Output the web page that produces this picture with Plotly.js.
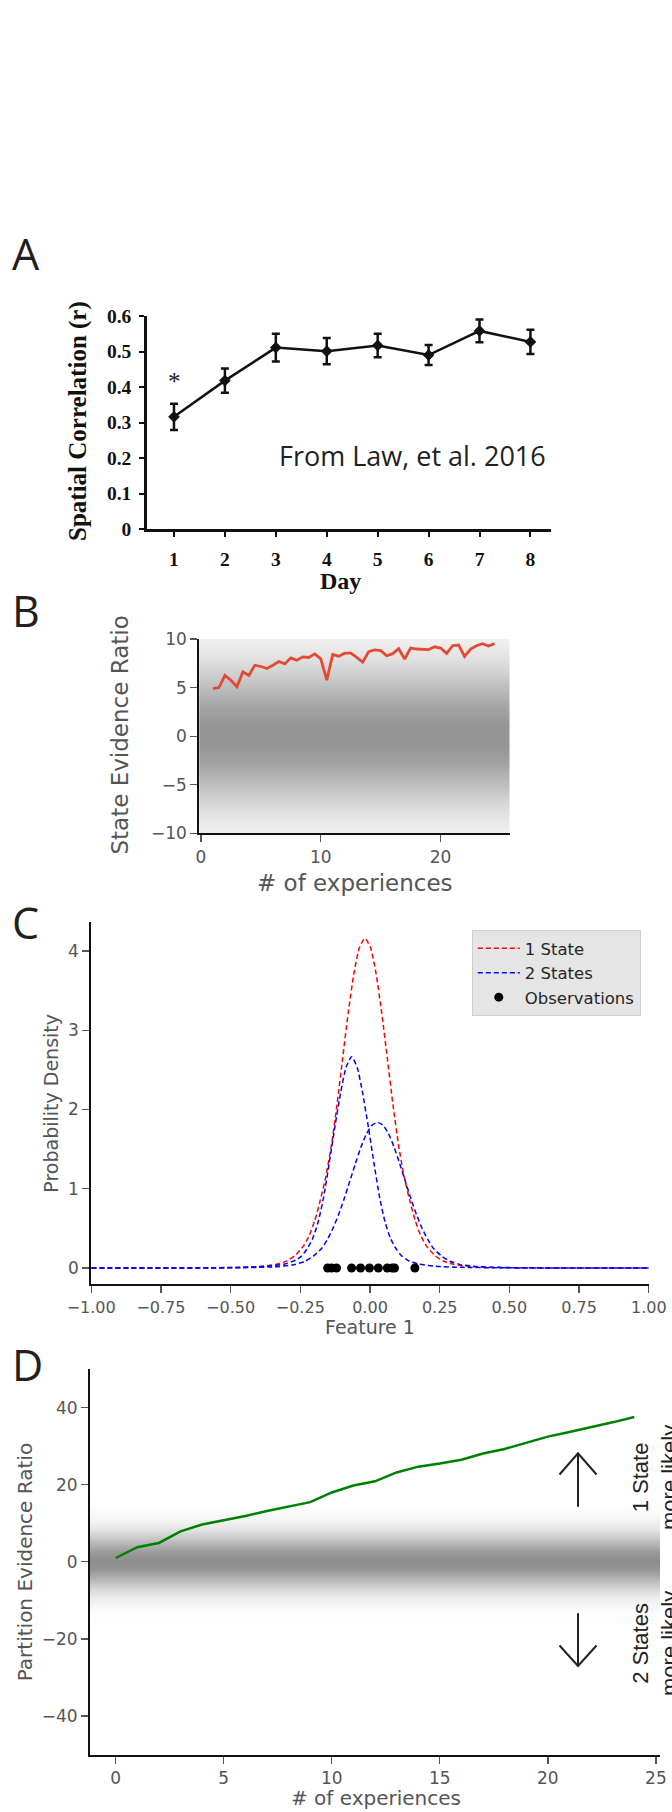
<!DOCTYPE html>
<html><head><meta charset="utf-8">
<script src="https://cdn.plot.ly/plotly-3.0.1.min.js"></script>
<style>html,body{margin:0;padding:0;background:#fff;}#plot{width:672px;height:1812px;}</style>
</head><body><div id="plot"></div>
<script>
// ---------- Panel A data (Law et al. 2016) ----------
const days = [1, 2, 3, 4, 5, 6, 7, 8];
const corr = [0.316, 0.418, 0.511, 0.501, 0.517, 0.490, 0.558, 0.527];
const corrErr = [0.037, 0.034, 0.039, 0.037, 0.033, 0.028, 0.032, 0.034];
const corrTickVals = [0, 0.1, 0.2, 0.3, 0.4, 0.5, 0.6];
const corrTickText = ['0', '0.1', '0.2', '0.3', '0.4', '0.5', '0.6'];

// ---------- Panel B data ----------
const expB = [1, 1.5, 2, 2.5, 3, 3.5, 4, 4.5, 5, 5.5, 6, 6.5, 7, 7.5, 8, 8.5, 9, 9.5, 10, 10.5,
  11, 11.5, 12, 12.5, 13, 13.5, 14, 14.5, 15, 15.5, 16, 16.5, 17, 17.5, 18, 18.5, 19, 19.5, 20, 20.5,
  21, 21.5, 22, 22.5, 23, 23.5, 24, 24.5];
const stateEvidence = [4.9, 5.0, 6.24, 5.76, 5.08, 6.62, 6.24, 7.3, 7.17, 6.96, 7.3, 7.68, 7.44, 8.06, 7.82, 8.16, 8.1, 8.47, 7.96, 5.76,
  8.4, 8.23, 8.54, 8.54, 8.1, 7.62, 8.7, 8.87, 8.8, 8.28, 8.49, 9.0, 7.94, 9.07, 8.97, 8.9, 8.9, 9.2, 9.07, 8.52,
  9.31, 9.38, 8.21, 8.97, 9.31, 9.52, 9.28, 9.52];
const bXTicks = [0, 10, 20];
const bYTicks = [-10, -5, 0, 5, 10];
const bYText = ['\u221210', '\u22125', '0', '5', '10'];

// ---------- Panel C data ----------
const oneStateX = [-1, -0.618, -0.478, -0.398, -0.338, -0.298, -0.268, -0.238, -0.218, -0.198, -0.178, -0.158, -0.138, -0.118, -0.098, -0.078, -0.058, -0.038, -0.018,
  0.002, 0.022, 0.042, 0.062, 0.082, 0.102, 0.122, 0.142, 0.162, 0.182, 0.202, 0.232, 0.262, 0.302, 0.362, 0.442, 0.582, 1];
const oneStateY = [0, 0.0015, 0.006, 0.018, 0.045, 0.09, 0.16, 0.28, 0.41, 0.6, 0.86, 1.16, 1.56, 2.07, 2.65, 3.22, 3.71, 4.04, 4.16,
  4.04, 3.71, 3.22, 2.65, 2.07, 1.56, 1.16, 0.86, 0.6, 0.41, 0.28, 0.16, 0.09, 0.045, 0.018, 0.006, 0.0015, 0];
const twoStatesAX = [-1, -0.616, -0.466, -0.366, -0.306, -0.266, -0.246, -0.226, -0.206, -0.186, -0.166, -0.146, -0.126, -0.106, -0.086, -0.066,
  -0.046, -0.026, -0.006, 0.014, 0.034, 0.054, 0.074, 0.094, 0.114, 0.134, 0.174, 0.234, 0.334, 0.484, 1];
const twoStatesAY = [0, 0.002, 0.008, 0.022, 0.05, 0.1, 0.15, 0.24, 0.37, 0.58, 0.9, 1.33, 1.78, 2.2, 2.53, 2.667,
  2.53, 2.2, 1.78, 1.33, 0.9, 0.58, 0.37, 0.24, 0.15, 0.1, 0.05, 0.022, 0.008, 0.002, 0];
const twoStatesBX = [-1, -0.573, -0.423, -0.333, -0.273, -0.233, -0.203, -0.173, -0.153, -0.133, -0.113, -0.093, -0.073, -0.053, -0.033, -0.013, 0.007, 0.027,
  0.047, 0.067, 0.087, 0.107, 0.127, 0.147, 0.167, 0.187, 0.207, 0.227, 0.257, 0.287, 0.327, 0.387, 0.477, 0.627, 1];
const twoStatesBY = [0, 0.0012, 0.006, 0.017, 0.042, 0.085, 0.15, 0.25, 0.36, 0.5, 0.67, 0.87, 1.09, 1.31, 1.52, 1.69, 1.80, 1.838,
  1.80, 1.69, 1.52, 1.31, 1.09, 0.87, 0.67, 0.5, 0.36, 0.25, 0.15, 0.085, 0.042, 0.017, 0.006, 0.0012, 0];
const obsX = [-0.152, -0.138, -0.12, -0.066, -0.034, -0.002, 0.030, 0.062, 0.080, 0.088, 0.161];
const obsY = [0, 0, 0, 0, 0, 0, 0, 0, 0, 0, 0];
const cXTicks = [-1, -0.75, -0.5, -0.25, 0, 0.25, 0.5, 0.75, 1];
const cXText = ['\u22121.00', '\u22120.75', '\u22120.50', '\u22120.25', '0.00', '0.25', '0.50', '0.75', '1.00'];
const cYTicks = [0, 1, 2, 3, 4];

// ---------- Panel D data ----------
const expD = [0, 1, 2, 3, 4, 5, 6, 7, 8, 9, 10, 11, 12, 13, 14, 15, 16, 17, 18, 19, 20, 21, 22, 23, 24];
const partitionEvidence = [1.0, 3.8, 4.9, 7.9, 9.7, 10.8, 11.9, 13.2, 14.4, 15.5, 18.0, 19.8, 20.9, 23.2, 24.7,
  25.5, 26.5, 28.1, 29.3, 31.0, 32.5, 33.7, 34.9, 36.2, 37.6];
const dXTicks = [0, 5, 10, 15, 20, 25];
const dYTicks = [-40, -20, 0, 20, 40];
const dYText = ['\u221240', '\u221220', '0', '20', '40'];

// ---------- helpers ----------
const W = 672, H = 1812;
const PX = p => p / W;
const PY = p => 1 - p / H;
const SERIF = 'Liberation Serif, Times New Roman, serif';
const DV = 'DejaVu Sans, sans-serif';
const OS = 'Open Sans, sans-serif';
const GRAY = '#555555';

function gradientURL(yMin, yMax, amp, sigma) {
  const n = 400;
  const c = document.createElement('canvas');
  c.width = 4; c.height = n;
  const ctx = c.getContext('2d');
  const img = ctx.createImageData(4, n);
  for (let r = 0; r < n; r++) {
    const y = yMax - (yMax - yMin) * (r + 0.5) / n;
    const g = Math.round(255 - amp * Math.exp(-y * y / (2 * sigma * sigma)));
    for (let k = 0; k < 4; k++) {
      const i = (r * 4 + k) * 4;
      img.data[i] = g; img.data[i + 1] = g; img.data[i + 2] = g; img.data[i + 3] = 255;
    }
  }
  ctx.putImageData(img, 0, 0);
  return c.toDataURL();
}

// domains (pixel based)
const domA = {x: [PX(146.7), PX(551.3)], y: [PY(529), PY(316)]};
const domB = {x: [PX(199.3), PX(509.5)], y: [PY(833.3), PY(639)]};
const domC = {x: [PX(91.2), PX(648.8)], y: [PY(1284.3), PY(922)]};
const domD = {x: [PX(90), PX(660)], y: [PY(1754.55), PY(1369.15)]};

const traces = [
  {x: days, y: corr, xaxis: 'x', yaxis: 'y', mode: 'lines+markers', showlegend: false,
   line: {color: '#111', width: 2.5}, marker: {symbol: 'diamond', size: 9, color: '#111'},
   error_y: {type: 'data', array: corrErr, visible: true, color: '#111', thickness: 2.5, width: 4}},
  {x: expB, y: stateEvidence, xaxis: 'x2', yaxis: 'y2', mode: 'lines', showlegend: false,
   line: {color: '#E24A33', width: 2.8}},
  {x: oneStateX, y: oneStateY, xaxis: 'x3', yaxis: 'y3', mode: 'lines', name: '1 State',
   line: {color: '#ff0000', width: 1.5, dash: '5px,3px', shape: 'spline', smoothing: 0.6}},
  {x: twoStatesAX, y: twoStatesAY, xaxis: 'x3', yaxis: 'y3', mode: 'lines', name: '2 States', legendgroup: 'two',
   line: {color: '#0000ff', width: 1.5, dash: '5px,3px', shape: 'spline', smoothing: 0.6}},
  {x: twoStatesBX, y: twoStatesBY, xaxis: 'x3', yaxis: 'y3', mode: 'lines', name: '2 States', legendgroup: 'two', showlegend: false,
   line: {color: '#0000ff', width: 1.5, dash: '5px,3px', shape: 'spline', smoothing: 0.6}},
  {x: obsX, y: obsY, xaxis: 'x3', yaxis: 'y3', mode: 'markers', name: 'Observations',
   marker: {color: '#000', size: 9}},
  {x: expD, y: partitionEvidence, xaxis: 'x4', yaxis: 'y4', mode: 'lines', showlegend: false,
   line: {color: '#008000', width: 2.5}}
];

function axBase(extra) {
  return Object.assign({showgrid: false, zeroline: false, showline: true, ticks: 'outside', fixedrange: true}, extra);
}
const axA = {linecolor: '#111', linewidth: 2.5, tickcolor: '#111', tickwidth: 2, ticklen: 5,
  tickfont: {family: SERIF, size: 19.5, color: '#111', weight: 'bold'}};
const axS = {linecolor: '#111', linewidth: 2, tickcolor: GRAY, tickwidth: 1.3, ticklen: 7};

const layout = {
  width: W, height: H, autosize: false,
  margin: {l: 0, r: 0, t: 0, b: 0, pad: 0},
  paper_bgcolor: '#ffffff', plot_bgcolor: 'rgba(0,0,0,0)',
  xaxis: axBase(Object.assign({domain: domA.x, anchor: 'y', range: [0.464, 8.41], tickvals: days, ticklabelstandoff: 6}, axA)),
  yaxis: axBase(Object.assign({domain: domA.y, anchor: 'x', range: [0, 0.6], tickvals: corrTickVals, ticktext: corrTickText, ticklabelstandoff: 4}, axA)),
  xaxis2: axBase(Object.assign({domain: domB.x, anchor: 'y2', range: [-0.14, 25.75], tickvals: bXTicks,
    tickfont: {family: DV, size: 17, color: GRAY}}, axS)),
  yaxis2: axBase(Object.assign({domain: domB.y, anchor: 'x2', range: [-10, 10], tickvals: bYTicks, ticktext: bYText,
    tickfont: {family: DV, size: 17, color: GRAY}}, axS)),
  xaxis3: axBase(Object.assign({domain: domC.x, anchor: 'y3', range: [-1, 1], tickvals: cXTicks, ticktext: cXText,
    tickfont: {family: DV, size: 16, color: GRAY}}, axS)),
  yaxis3: axBase(Object.assign({domain: domC.y, anchor: 'x3', range: [-0.2057, 4.3659], tickvals: cYTicks,
    tickfont: {family: DV, size: 17, color: GRAY}}, axS)),
  xaxis4: axBase(Object.assign({domain: domD.x, anchor: 'y4', range: [-1.19, 25.19], tickvals: dXTicks,
    tickfont: {family: DV, size: 17, color: GRAY}}, axS)),
  yaxis4: axBase(Object.assign({domain: domD.y, anchor: 'x4', range: [-50, 50], tickvals: dYTicks, ticktext: dYText,
    tickfont: {family: DV, size: 17, color: GRAY}}, axS)),
  showlegend: true,
  legend: {x: PX(640.8), y: PY(930), xanchor: 'right', yanchor: 'top', xref: 'paper', yref: 'paper',
    bgcolor: '#e5e5e5', bordercolor: '#cfcfcf', borderwidth: 1,
    font: {family: DV, size: 16.5, color: '#262626'}, itemwidth: 42, tracegroupgap: 0},
  images: [
    {source: gradientURL(-10, 10, 107, 5), xref: 'paper', yref: 'paper', x: domB.x[0], y: domB.y[1],
     sizex: domB.x[1] - domB.x[0], sizey: domB.y[1] - domB.y[0], xanchor: 'left', yanchor: 'top', sizing: 'stretch', layer: 'below'},
    {source: gradientURL(-50, 50, 112, 5), xref: 'paper', yref: 'paper', x: domD.x[0], y: domD.y[1],
     sizex: domD.x[1] - domD.x[0], sizey: domD.y[1] - domD.y[0], xanchor: 'left', yanchor: 'top', sizing: 'stretch', layer: 'below'}
  ],
  shapes: [
    {type: 'line', xref: 'paper', yref: 'paper', x0: PX(578), x1: PX(578), y0: PY(1506.7), y1: PY(1453.8), line: {color: '#222', width: 2}},
    {type: 'path', xref: 'paper', yref: 'paper', path: `M${PX(559.5)},${PY(1474.5)} L${PX(578)},${PY(1453.3)} L${PX(596.5)},${PY(1474.5)}`, line: {color: '#222', width: 2}},
    {type: 'line', xref: 'paper', yref: 'paper', x0: PX(578), x1: PX(578), y0: PY(1613.3), y1: PY(1665.5), line: {color: '#222', width: 2}},
    {type: 'path', xref: 'paper', yref: 'paper', path: `M${PX(559.5)},${PY(1645.5)} L${PX(578)},${PY(1666)} L${PX(596.5)},${PY(1645.5)}`, line: {color: '#222', width: 2}}
  ],
  annotations: []
};

function ann(text, x, y, font, opts) {
  layout.annotations.push(Object.assign({text: text, xref: 'paper', yref: 'paper', x: PX(x), y: PY(y),
    xanchor: 'center', yanchor: 'middle', showarrow: false, font: font}, opts || {}));
}
// panel letters
const letterFont = {family: OS, size: 43, color: '#231f20'};
ann('A', 10, 254, letterFont, {xanchor: 'left'});
ann('B', 10, 610, letterFont, {xanchor: 'left'});
ann('C', 10, 922, letterFont, {xanchor: 'left'});
ann('D', 10, 1364, letterFont, {xanchor: 'left'});
// panel A texts
ann('Day', 340, 581, {family: SERIF, size: 24, color: '#111', weight: 'bold'});
ann('Spatial Correlation (r)', 78, 421, {family: SERIF, size: 25, color: '#111', weight: 'bold'}, {textangle: -90});
ann('*', 174, 382, {family: SERIF, size: 25, color: '#222'});
ann('From Law, et al. 2016', 412, 455, {family: OS, size: 27, color: '#231f20'});
// panel B titles
ann('State Evidence Ratio', 120, 735.5, {family: DV, size: 23, color: GRAY}, {textangle: -90});
ann('# of experiences', 354.7, 883, {family: DV, size: 23, color: GRAY});
// panel C titles
ann('Probability Density', 50.7, 1103, {family: DV, size: 19, color: GRAY}, {textangle: -90});
ann('Feature 1', 370, 1327, {family: DV, size: 19, color: GRAY});
// panel D titles
ann('Partition Evidence Ratio', 24.8, 1562.5, {family: DV, size: 20, color: GRAY}, {textangle: -90});
ann('# of experiences', 376.3, 1798, {family: DV, size: 20, color: GRAY});
ann('1 State<br>more likely', 655, 1478, {family: 'Liberation Sans, Arial, sans-serif', size: 22, color: '#222'}, {textangle: -90});
ann('2 States<br>more likely', 655, 1644, {family: 'Liberation Sans, Arial, sans-serif', size: 22, color: '#222'}, {textangle: -90});

Plotly.newPlot('plot', traces, layout, {displayModeBar: false, staticPlot: true});
</script>
</body></html>
